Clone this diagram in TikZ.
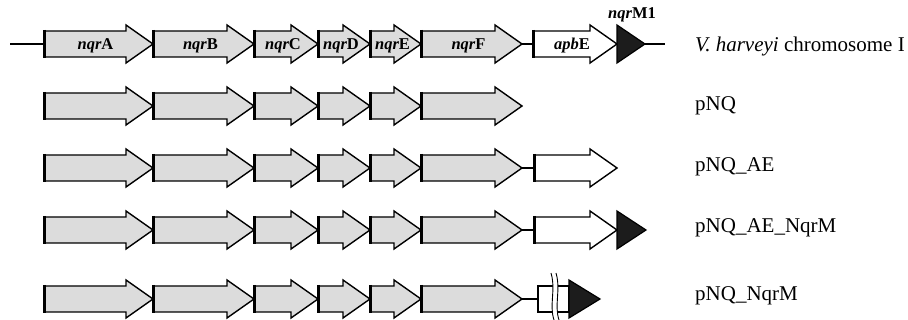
\documentclass[tikz,border=0pt]{standalone}
\usepackage{fontspec}
\setmainfont{Liberation Serif}
\definecolor{genegray}{HTML}{DCDCDC}
\definecolor{termblack}{HTML}{1C1C1C}
\tikzset{
  genebody/.style={draw=black, line width=1.4pt, line join=miter},
  startbar/.style={line width=3pt, line cap=butt},
  link/.style={line width=2.6pt},
  thinlink/.style={line width=1.5pt},
  termtri/.style={draw=black, line width=1.2pt, fill=termblack, line join=miter},
  genelab/.style={font=\fontsize{16.5}{18}\selectfont\bfseries, inner sep=0pt, anchor=base},
  rowlab/.style={font=\fontsize{21}{24}\selectfont, inner sep=0pt, anchor=base west},
}
% #1 name, #2 left x, #3 tip x, #4 centre y, #5 fill colour, #6 label
\newcommand\genearr[6]{%
  \path[genebody, fill=#5] (#2,{#4-13}) -- ({#3-27},{#4-13}) -- ({#3-27},{#4-19}) -- (#3,#4)
     -- ({#3-27},{#4+19}) -- ({#3-27},{#4+13}) -- (#2,{#4+13}) -- cycle;
  \draw[startbar] (#2,{#4-14}) -- (#2,{#4+14});
  \coordinate (#1-l) at (#2,#4);
  \coordinate (#1-r) at (#3,#4);
  \node[genelab] (#1) at ({(#2+#3)/2-3},{#4+6}) {#6};
}
% #1 name, #2 left x, #3 tip x, #4 centre y
\newcommand\termarr[4]{%
  \path[termtri] (#2,{#4-19}) -- (#3,#4) -- (#2,{#4+19}) -- cycle;
  \coordinate (#1-l) at (#2,#4);
  \coordinate (#1-r) at (#3,#4);
}
\newcommand\gn[2]{{\itshape #1}#2}
\begin{document}
\begin{tikzpicture}[x=1pt,y=-1pt]
\useasboundingbox (0,0) rectangle (908,320);
% ---------- row 1 : chromosome ----------
\coordinate (start1) at (10,44);
\coordinate (end1) at (665,44);
\draw[link] (start1) -- (44,44);
\genearr{A1}{44}{153}{44}{genegray}{\gn{nqr}{A}}
\genearr{B1}{153}{254}{44}{genegray}{\gn{nqr}{B}}
\genearr{C1}{254}{318}{44}{genegray}{\gn{nqr}{C}}
\genearr{D1}{318}{370}{44}{genegray}{\gn{nqr}{D}}
\genearr{E1}{370}{421}{44}{genegray}{\gn{nqr}{E}}
\genearr{F1}{421}{522}{44}{genegray}{\gn{nqr}{F}}
\draw[link] (F1-r) -- (533,44);
\genearr{apb1}{533}{617}{44}{white}{\gn{apb}{E}}
\termarr{M1}{617}{645}{44}
\draw[link] (M1-r) -- (end1);
\node[genelab] (M1lab) at (632,19) {\gn{nqr}{M1}};
\node[rowlab] (lab1) at (695,52) {\textit{V. harveyi} chromosome I};
% ---------- row 2 : pNQ ----------
\genearr{A2}{44}{153}{106}{genegray}{}
\genearr{B2}{153}{254}{106}{genegray}{}
\genearr{C2}{254}{318}{106}{genegray}{}
\genearr{D2}{318}{370}{106}{genegray}{}
\genearr{E2}{370}{421}{106}{genegray}{}
\genearr{F2}{421}{522}{106}{genegray}{}
\node[rowlab] (lab2) at (695,111) {pNQ};
% ---------- row 3 : pNQ_AE ----------
\genearr{A3}{44}{153}{168}{genegray}{}
\genearr{B3}{153}{254}{168}{genegray}{}
\genearr{C3}{254}{318}{168}{genegray}{}
\genearr{D3}{318}{370}{168}{genegray}{}
\genearr{E3}{370}{421}{168}{genegray}{}
\genearr{F3}{421}{522}{168}{genegray}{}
\draw[link] (F3-r) -- (534,168);
\genearr{apb3}{534}{617}{168}{white}{}
\node[rowlab] (lab3) at (695,172) {pNQ\_AE};
% ---------- row 4 : pNQ_AE_NqrM ----------
\genearr{A4}{44}{153}{230}{genegray}{}
\genearr{B4}{153}{254}{230}{genegray}{}
\genearr{C4}{254}{318}{230}{genegray}{}
\genearr{D4}{318}{370}{230}{genegray}{}
\genearr{E4}{370}{421}{230}{genegray}{}
\genearr{F4}{421}{522}{230}{genegray}{}
\draw[link] (F4-r) -- (534,230);
\genearr{apb4}{534}{617}{230}{white}{}
\termarr{M4}{617}{646}{230}
\node[rowlab] (lab4) at (695,233) {pNQ\_AE\_NqrM};
% ---------- row 5 : pNQ_NqrM ----------
\genearr{A5}{44}{153}{299}{genegray}{}
\genearr{B5}{153}{254}{299}{genegray}{}
\genearr{C5}{254}{318}{299}{genegray}{}
\genearr{D5}{318}{370}{299}{genegray}{}
\genearr{E5}{370}{421}{299}{genegray}{}
\genearr{F5}{421}{522}{299}{genegray}{}
\draw[thick, line width=1.4pt, fill=white] (538,286) rectangle (569,312);
\coordinate (box5-l) at (538,299);
\draw[thinlink] (F5-r) -- (box5-l);
\termarr{M5}{569}{600}{299}
% break marks
\fill[white] (551,273) .. controls (556,290) and (549,305) .. (554,320)
   -- (559,320) .. controls (554,305) and (561,290) .. (556,273) -- cycle;
\draw[line width=0.9pt] (551,273) .. controls (556,290) and (549,305) .. (554,320);
\draw[line width=0.9pt] (556,273) .. controls (561,290) and (554,305) .. (559,320);
\node[rowlab] (lab5) at (695,301) {pNQ\_NqrM};
\end{tikzpicture}
\end{document}
